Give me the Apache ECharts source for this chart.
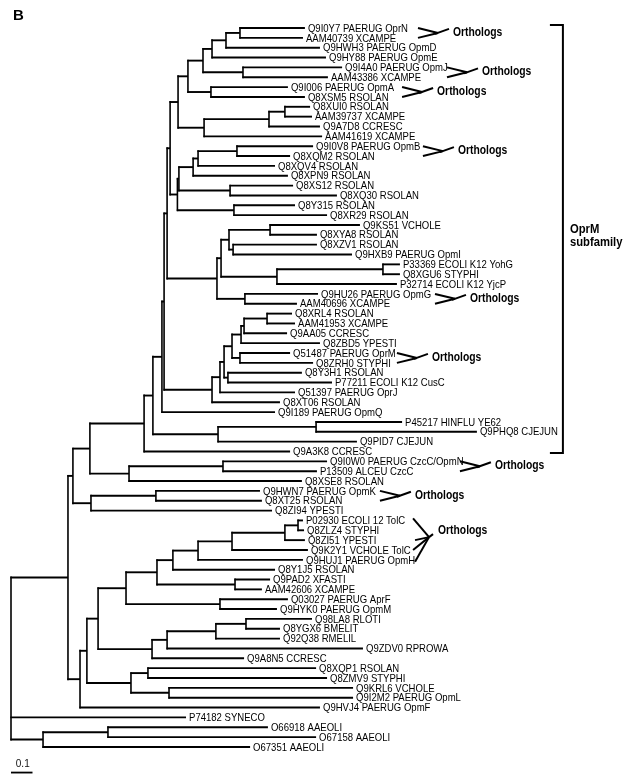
<!DOCTYPE html>
<html><head><meta charset="utf-8">
<script src="https://cdn.jsdelivr.net/npm/echarts@6/dist/echarts.min.js"></script>
<style>html,body{margin:0;padding:0;background:#fff}#c{width:628px;height:780px}</style>
</head><body><div id="c"></div>
<script>
// ---- Leaves (top to bottom) ----
const leafNames = [
 'Q9I0Y7 PAERUG OprN','AAM40739 XCAMPE','Q9HWH3 PAERUG OpmD','Q9HY88 PAERUG OpmE',
 'Q9I4A0 PAERUG OpmJ','AAM43386 XCAMPE','Q9I006 PAERUG OpmA','Q8XSM5 RSOLAN',
 'Q8XUI0 RSOLAN','AAM39737 XCAMPE','Q9A7D8 CCRESC','AAM41619 XCAMPE',
 'Q9I0V8 PAERUG OpmB','Q8XQM2 RSOLAN','Q8XQV4 RSOLAN','Q8XPN9 RSOLAN',
 'Q8XS12 RSOLAN','Q8XQ30 RSOLAN','Q8Y315 RSOLAN','Q8XR29 RSOLAN',
 'Q9KS51 VCHOLE','Q8XYA8 RSOLAN','Q8XZV1 RSOLAN','Q9HXB9 PAERUG OpmI',
 'P33369 ECOLI K12 YohG','Q8XGU6 STYPHI','P32714 ECOLI K12 YjcP','Q9HU26 PAERUG OpmG',
 'AAM40696 XCAMPE','Q8XRL4 RSOLAN','AAM41953 XCAMPE','Q9AA05 CCRESC',
 'Q8ZBD5 YPESTI','Q51487 PAERUG OprM','Q8ZRH0 STYPHI','Q8Y3H1 RSOLAN',
 'P77211 ECOLI K12 CusC','Q51397 PAERUG OprJ','Q8XT06 RSOLAN','Q9I189 PAERUG OpmQ',
 'P45217 HINFLU YE62','Q9PHQ8 CJEJUN','Q9PID7 CJEJUN','Q9A3K8 CCRESC',
 'Q9I0W0 PAERUG CzcC/OpmN','P13509 ALCEU CzcC','Q8XSE8 RSOLAN','Q9HWN7 PAERUG OpmK',
 'Q8XT25 RSOLAN','Q8ZI94 YPESTI','P02930 ECOLI 12 TolC','Q8ZLZ4 STYPHI',
 'Q8ZI51 YPESTI','Q9K2Y1 VCHOLE TolC','Q9HUJ1 PAERUG OpmH','Q8Y1J5 RSOLAN',
 'Q9PAD2 XFASTI','AAM42606 XCAMPE','Q03027 PAERUG AprF','Q9HYK0 PAERUG OpmM',
 'Q98LA8 RLOTI','Q8YGX6 BMELIT','Q92Q38 RMELIL','Q9ZDV0 RPROWA',
 'Q9A8N5 CCRESC','Q8XQP1 RSOLAN','Q8ZMV9 STYPHI','Q9KRL6 VCHOLE',
 'Q9I2M2 PAERUG OpmL','Q9HVJ4 PAERUG OpmF','P74182 SYNECO','O66918 AAEOLI',
 'O67158 AAEOLI','O67351 AAEOLI'
];
// distance of each leaf tip from the root
const leafDepth = [
 1.367,1.358,1.437,1.465, 1.540,1.474,1.288,1.367,
 1.391,1.400,1.437,1.447, 1.405,1.298,1.228,1.288,
 1.312,1.516,1.321,1.470, 1.623,1.423,1.423,1.586,
 1.809,1.809,1.795,1.428, 1.330,1.307,1.321,1.284,
 1.437,1.298,1.405,1.353, 1.493,1.321,1.251,1.228,
 1.819,2.167,1.609,1.298, 1.470,1.423,1.353,1.158,
 1.167,1.214,1.358,1.363, 1.367,1.381,1.358,1.228,
 1.205,1.167,1.288,1.237, 1.400,1.251,1.251,1.637,
 1.084,1.419,1.470,1.591, 1.591,1.437,0.814,1.195,
 1.419,1.112
];
// ---- Internal nodes (children: leaf index or node id) ----
const nodeIds = ['A','B','C','D','E','F','G','H','I','J','K','N','O','P','Q','M1','R','M','L',
 'Z','Y','X','AA','W','V','U','T','S','c1','c2','c3','c4','c5','c6','c7','c8','c9',
 'OD','OA','d1','d2','OB','OC','e1','OE','ON','f1','OF','OG',
 'g1','g2','g3','g4','g5','h1','g6','i1','g7','j1','j2','j3','j4','g8',
 'k1','k2','k3','g9','g10','OH','m1','m2','root'];
const nodeChildren = [[0,1],['A',2],['B',3],[4,5],['C','D'],[6,7],['E','F'],[8,9],['H',10],['I',11],['G','J'],
 [12,13],['N',14],['O',15],[16,17],['P','Q'],[18,19],['M1','R'],['K','M'],
 [20,21],[22,23],['Z','Y'],[24,25],['AA',26],['X','W'],[27,28],['V','U'],['L','T'],
 [29,30],['c1',31],['c2',32],[33,34],['c3','c4'],[35,36],['c5','c6'],['c7',37],['c8',38],
 ['S','c9'],['OD',39],[40,41],['d1',42],['OA','d2'],['OB',43],[44,45],['e1',46],['OC','OE'],
 [47,48],['f1',49],['ON','OF'],
 [50,51],['g1',52],['g2',53],['g3',54],['g4',55],[56,57],['g5','h1'],[58,59],['g6','i1'],
 [60,61],['j1',62],['j2',63],['j3',64],['g7','j4'],
 [65,66],[67,68],['k1','k2'],['g8','k3'],['g9',69],['OG','g10'],[71,72],['m1',73],['OH',70,'m2']];
const nodeDepth = [1.065,1.000,0.935,1.079,0.893,0.930,0.823,1.274,1.200,0.898,0.777,
 1.051,0.870,0.847,1.019,0.781,1.037,0.774,0.740,
 1.205,1.033,1.014,1.730,1.237,0.977,1.088,0.958,0.726,
 1.191,1.084,1.070,1.065,1.028,1.009,0.991,0.972,0.935,
 0.712,0.702,1.419,0.963,0.660,0.619,0.986,0.549,0.367,0.674,0.372,0.288,
 1.335,1.274,1.028,0.870,0.753,1.042,0.679,0.972,0.535,
 1.093,0.953,0.726,0.656,0.405,
 0.637,0.735,0.558,0.353,0.321,0.265,0.451,0.149,0];
// ---- Annotations ----
const orthologGroups = [[0,1],[4,5],[6,7],[12,13],[27,28],[33,34],[44,45],[47,48],[50,52,53,54]];
const orthologX = [1.893,2.028,1.819,1.916,1.972,1.795,2.088,1.716,1.870];
const subfamilyLeaves = [0,43];
const subfamilyX = 2.567;
const subfamilyLabel = ['OprM','subfamily'];
const scaleBarLength = 0.1;
const scaleBarLabel = '0.1';

// ---- layout from the data ----
const pos = {};
leafNames.forEach((n,i)=>{ pos[i] = {x: leafDepth[i], y: i, leaf: true, name: n}; });
nodeIds.forEach((id,k)=>{ pos[id] = {x: nodeDepth[k], children: nodeChildren[k], leaf: false}; });
nodeIds.forEach(id=>{ pos[id].children.forEach(c=>{ pos[c].parent = id; }); });
function yOf(id){
  const p = pos[id];
  if (p.y !== undefined) return p.y;
  const ys = p.children.map(yOf);
  p.ymin = Math.min.apply(null, ys); p.ymax = Math.max.apply(null, ys);
  p.y = (ys[0] + ys[ys.length-1]) / 2;
  return p.y;
}
nodeIds.forEach(yOf);
const allIds = leafNames.map((n,i)=>i).concat(nodeIds);
const branchData = allIds.map(id=>{
  const p = pos[id];
  const px = p.parent !== undefined ? pos[p.parent].x : p.x;
  return [p.x, p.y, px, p.leaf ? p.y : p.ymin, p.leaf ? p.y : p.ymax, p.leaf ? 1 : 0];
});
const FONT = '"Liberation Sans", Arial, Helvetica, sans-serif';
const LWH = 1.9, LWV = 1.6;

function renderBranch(params, api){
  const x = api.value(0), y = api.value(1), px = api.value(2);
  const p = api.coord([x, y]);
  const q = api.coord([px, y]);
  const ch = [];
  if (px !== x) ch.push({type:'line', shape:{x1:q[0]-0.6, y1:p[1], x2:p[0], y2:p[1]}, style:{stroke:'#000', lineWidth:LWH}});
  if (api.value(5) === 0) {
    const a = api.coord([x, api.value(3)]), b = api.coord([x, api.value(4)]);
    ch.push({type:'line', shape:{x1:a[0], y1:a[1]-0.95, x2:b[0], y2:b[1]+0.95}, style:{stroke:'#000', lineWidth:LWV}});
  } else {
    const id = allIds[params.dataIndex];
    ch.push({type:'text', x:p[0]+3, y:p[1]+0.5, scaleX:0.83,
      style:{text: pos[id].name, x:0, y:0, fill:'#000', font:'11.5px ' + FONT,
        align:'left', verticalAlign:'middle', textAlign:'left', textVerticalAlign:'middle'}});
  }
  return {type:'group', children: ch};
}

function renderOrtholog(params, api){
  const g = orthologGroups[params.dataIndex];
  const x0 = api.value(0);
  const first = api.coord([x0, g[0]]), last = api.coord([x0, g[g.length-1]]);
  const ch = [];
  const lineStyle = {stroke:'#000', lineWidth:2};
  let tx;
  if (g.length === 2) {
    const my = (first[1] + last[1]) / 2;
    const cx = first[0] + 20;
    ch.push({type:'line', shape:{x1:first[0], y1:first[1], x2:cx, y2:my}, style:lineStyle});
    ch.push({type:'line', shape:{x1:last[0], y1:last[1], x2:cx, y2:my}, style:lineStyle});
    ch.push({type:'line', shape:{x1:cx-3, y1:my+1, x2:cx+11, y2:my-4}, style:lineStyle});
    tx = [cx + 15, my - 0.5];
  } else {
    const my = (first[1] + last[1]) / 2 - 3;
    const cx = first[0] + 16;
    g.forEach((li, k)=>{
      const pt = api.coord([x0, li]);
      const yy = k === 0 ? pt[1] - 2 : (k === g.length-1 ? pt[1] + 2 : pt[1]);
      ch.push({type:'line', shape:{x1:pt[0] + (k%2)*2, y1:yy, x2:cx, y2:my}, style:lineStyle});
    });
    ch.push({type:'line', shape:{x1:cx, y1:my, x2:cx+4, y2:my-3}, style:lineStyle});
    tx = [cx + 9, my - 6];
  }
  ch.push({type:'text', x:tx[0], y:tx[1], scaleX:0.86,
    style:{text:'Orthologs', x:0, y:0, fill:'#000', font:'bold 12px ' + FONT,
      align:'left', verticalAlign:'middle', textAlign:'left', textVerticalAlign:'middle'}});
  return {type:'group', children: ch};
}

function renderBracket(params, api){
  const x = api.value(0);
  const t = api.coord([x, api.value(1)]), b = api.coord([x, api.value(2)]);
  const st = {stroke:'#000', lineWidth:2};
  const my = (t[1] + b[1]) / 2;
  return {type:'group', children:[
    {type:'line', shape:{x1:t[0], y1:t[1]-4, x2:b[0], y2:b[1]+2.5}, style:st},
    {type:'line', shape:{x1:t[0]-13, y1:t[1]-3, x2:t[0], y2:t[1]-3}, style:st},
    {type:'line', shape:{x1:b[0]-13, y1:b[1]+1.5, x2:b[0], y2:b[1]+1.5}, style:st},
    {type:'text', x:t[0]+7, y:my-10, scaleX:0.9, style:{text:subfamilyLabel[0], x:0, y:0, fill:'#000', font:'bold 12.5px ' + FONT, align:'left', verticalAlign:'middle', textAlign:'left', textVerticalAlign:'middle'}},
    {type:'text', x:t[0]+7, y:my+3, scaleX:0.9, style:{text:subfamilyLabel[1], x:0, y:0, fill:'#000', font:'bold 12.5px ' + FONT, align:'left', verticalAlign:'middle', textAlign:'left', textVerticalAlign:'middle'}}
  ]};
}

function renderScale(params, api){
  const a = api.coord([api.value(0), api.value(2)]), b = api.coord([api.value(1), api.value(2)]);
  return {type:'group', children:[
    {type:'line', shape:{x1:a[0], y1:a[1], x2:b[0], y2:b[1]}, style:{stroke:'#000', lineWidth:1.8}},
    {type:'text', x:(a[0]+b[0])/2 + 1, y:a[1]-3, style:{text:scaleBarLabel, x:0, y:0, fill:'#111', font:'10px ' + FONT, align:'center', verticalAlign:'bottom', textAlign:'center', textVerticalAlign:'bottom'}}
  ]};
}

const chart = echarts.init(document.getElementById('c'), null, {renderer:'canvas'});
chart.setOption({
  animation: false,
  backgroundColor: '#fff',
  title: {text:'B', left:8, top:3, textStyle:{fontSize:15, fontWeight:'bold', fontFamily:'Liberation Sans, Arial', color:'#000'}},
  grid: {left:11, right:15, top:18.15, bottom:3.5},
  xAxis: {type:'value', min:0, max:2.8, show:false},
  yAxis: {type:'value', min:-1, max:76, inverse:true, show:false},
  series: [
    {type:'custom', renderItem: renderBranch, data: branchData, clip:false, encode:{x:0, y:1}, silent:true},
    {type:'custom', renderItem: renderOrtholog, data: orthologX.map((x,i)=>[x, orthologGroups[i][0]]), clip:false, encode:{x:0, y:1}, silent:true},
    {type:'custom', renderItem: renderBracket, data: [[subfamilyX, subfamilyLeaves[0], subfamilyLeaves[1]]], clip:false, encode:{x:0, y:1}, silent:true},
    {type:'custom', renderItem: renderScale, data: [[0, scaleBarLength, 75.6]], clip:false, encode:{x:0, y:2}, silent:true}
  ]
});
</script></body></html>
